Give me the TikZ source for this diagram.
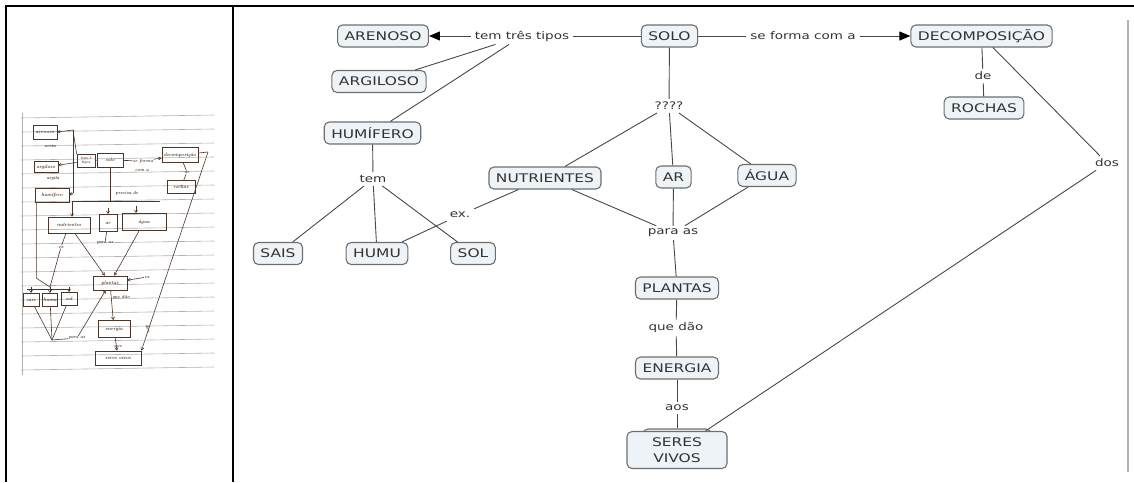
\documentclass[tikz,border=0pt]{standalone}
\usepackage{fontspec}
\usetikzlibrary{arrows.meta}
\newfontfamily\mapfont[FakeStretch=1.3]{DejaVu Sans}

\definecolor{boxfill}{HTML}{EDF3F6}
\definecolor{boxline}{HTML}{6E6E6E}
\definecolor{ink}{HTML}{333333}
\definecolor{wire}{HTML}{484848}
\definecolor{pen}{HTML}{4E3528}
\definecolor{ruled}{HTML}{B0B0B0}

\tikzset{
  concept/.style={draw=boxline, line width=1.1pt, fill=boxfill, rounded corners=5pt,
    text=ink, font={\mapfont\fontsize{11.9}{14}\selectfont},
    minimum height=22pt, inner xsep=7pt, inner ysep=2pt},
  linkword/.style={text=ink, font={\mapfont\fontsize{10.4}{12}\selectfont},
    inner xsep=4pt, inner ysep=3pt},
  wireline/.style={draw=wire, line width=0.9pt},
  wirearrow/.style={wireline, -{Triangle[length=11pt,width=9pt,color=black]}},
  frameline/.style={line width=2pt, black},
  hbox/.style={draw=pen, line width=0.7pt, inner sep=0.6pt, text=pen,
    font={\bfseries\itshape\fontsize{4.8}{5}\selectfont}},
  hnote/.style={inner sep=0.5pt, text=pen, font={\bfseries\itshape\fontsize{4.5}{5}\selectfont}},
  hline/.style={draw=pen, line width=0.6pt},
  harrow/.style={hline, -{Straight Barb[length=2.5pt,width=3pt]}},
}

\begin{document}
\begin{tikzpicture}[x=1pt,y=-1pt]
\useasboundingbox (0,0) rectangle (1134,482);

% table frame
\draw[frameline] (5,6) -- (1134,6);
\draw[frameline] (6,5) -- (6,482);
\draw[frameline] (233,6) -- (233,482);
\draw[draw=ruled, line width=1.2pt] (1128,20) -- (1128,472);

% ---------- handwritten draft on ruled paper ----------
\foreach \k in {0,...,18}
  \draw[ruled, line width=0.6pt] (21,{118+14*\k}) -- (214,{115+14*\k});
\draw[ruled, line width=0.4pt] (22,113) -- (22,375);

\node[hbox, minimum width=24pt, minimum height=14pt] (hare) at (45,132) {arenoso};
\node[hnote] (hareia) at (50,146) {areia};
\node[hbox, minimum width=24pt, minimum height=11pt] (harg) at (46,167) {argiloso};
\node[hnote] (hargila) at (53,178) {argila};
\node[hbox, minimum width=18pt, minimum height=13pt, align=center,
      font={\bfseries\itshape\fontsize{3.8}{4}\selectfont}] (htem) at (86,161) {tem 3\\tipos};
\node[hbox, minimum width=26pt, minimum height=14pt] (hsolo) at (110,160) {solo};
\node[hnote] (hforma) at (143,161) {se forma};
\node[hnote] (hcom) at (142,170) {com a};
\node[hbox, minimum width=36pt, minimum height=15pt] (hdec) at (180,155) {decomposição};
\node[hnote] (hde) at (187,172) {de};
\node[hbox, minimum width=28pt, minimum height=13pt] (hroc) at (181,187) {rochas};
\node[hbox, minimum width=34pt, minimum height=14pt] (hhum) at (52,195) {humífero};
\node[hnote] (hprec) at (127,193) {precisa de};
\node[hbox, minimum width=42pt, minimum height=16pt] (hnut) at (69,225) {nutrientes};
\node[hbox, minimum width=18pt, minimum height=17pt] (har) at (108,223) {ar};
\node[hbox, minimum width=44pt, minimum height=17pt] (hagua) at (144,222) {água};
\node[hnote] (hex) at (61,247) {ex};
\node[hnote] (hpara) at (105,243) {para as};
\node[hbox, minimum width=34pt, minimum height=14pt] (hpla) at (110,283) {plantas};
\node[hnote] (hex2) at (147,277) {ex};
\node[hnote] (hque) at (121,297) {que dão};
\node[hbox, minimum width=16pt, minimum height=13pt] (hsais) at (31,300) {sais};
\node[hbox, minimum width=15pt, minimum height=13pt] (hhumu) at (50,300) {humu};
\node[hbox, minimum width=16pt, minimum height=13pt] (hsol) at (69,299) {sol};
\node[hbox, minimum width=32pt, minimum height=17pt] (hene) at (114,329) {energia};
\node[hnote] (hpp) at (77,338) {para as};
\node[hnote] (haos) at (118,346) {aos};
\node[hbox, minimum width=46pt, minimum height=14pt] (hser) at (118,358) {seres vivos};
\node[hnote, rotate=-70] (hdos) at (148,328) {dos};

\coordinate (hv1) at (73,130);
\coordinate (hv2) at (73,193);
\coordinate (hbarL) at (72,201);
\coordinate (hbarR) at (160,201);
\coordinate (hj) at (50,287);
\coordinate (hk) at (52,340);
\coordinate (hdr) at (208,152);

\draw[hline] (hsolo) -- (htem);
\draw[harrow] (htem) -- (harg);
\draw[hline] (htem.north west) -- (hv1);
\draw[hline] (hv1) -- (hv2);
\draw[harrow] (hv1) -- (hare.east);
\draw[harrow] (hv2) -- (hhum.east);
\draw[hline] (hsolo) -- (hforma);
\draw[harrow] (hforma) -- (hdec);
\draw[hline] (hdec) -- (hde) -- (hroc);
\draw[hline] (hbarL) -- (hbarR);
\draw[hline] (hsolo) -- (hsolo |- hbarL);
\draw[harrow] (hnut.north -| hbarL) ++(0,-16) -- (hnut.north -| hbarL);
\draw[harrow] (har.north) ++(0,-6) -- (har.north);
\draw[harrow] (hagua.north) ++(-8,-7) -- ([xshift=-8pt]hagua.north);
\draw[hline] (hhum.south west) ++(2,0) -- ++(0,76) -- (hj);
\draw[hline] (hnut) -- (hex) -- (hj);
\draw[hline] (27,289) -- (70,289);
\draw[harrow] (hsais.north |- hj) -- (hsais.north);
\draw[harrow] (hj) -- (hhumu.north);
\draw[harrow] (hsol.north |- hj) -- (hsol.north);
\draw[hline] (hsais) -- (hk);
\draw[hline] (hhumu) -- (hk);
\draw[hline] (hsol) -- (hk);
\draw[hline] (hk) -- (hpp);
\draw[harrow] (hpp) -- (hpla);
\draw[harrow] (hnut) -- (hpla);
\draw[harrow] (hagua) -- (hpla);
\draw[hline] (har) -- (hpara);
\draw[harrow] (hpla) -- (hene);
\draw[harrow] (hene) -- (hser);
\draw[hline] (hdec) -- (hdr);
\draw[harrow] (hdr) -- (hser.north east);
\draw[harrow] (hex2) -- (hpla);

% ---------- concept map ----------
\node[concept] (arenoso) at (383,36) {ARENOSO};
\node[concept] (argiloso) at (379,81.5) {ARGILOSO};
\node[concept] (humifero) at (372.5,133) {HUMÍFERO};
\node[linkword] (tres) at (522,36) {tem três tipos};
\node[concept] (solo) at (669.5,36) {SOLO};
\node[linkword] (forma) at (803,36) {se forma com a};
\node[concept] (decomp) at (981.5,36) {DECOMPOSIÇÃO};
\node[linkword] (de) at (983,76) {de};
\node[concept] (rochas) at (984,108) {ROCHAS};
\node[linkword] (dos) at (1107,163) {dos};
\node[linkword] (tem) at (373,179) {tem};
\node[concept] (sais) at (278,253.5) {SAIS};
\node[concept] (humu) at (377,253.5) {HUMU};
\node[concept] (sol) at (473,253.5) {SOL};
\node[linkword] (ex) at (460,215) {ex.};
\node[linkword] (quest) at (669,106) {????};
\node[concept] (nutri) at (545,178) {NUTRIENTES};
\node[concept] (ar) at (673.5,177) {AR};
\node[concept] (agua) at (767,175.5) {ÁGUA};
\node[linkword] (paraas) at (673,233) {para as};
\node[concept] (plantas) at (677,288) {PLANTAS};
\node[linkword] (quedao) at (676,328) {que dão};
\node[concept] (energia) at (677,368) {ENERGIA};
\node[linkword] (aos) at (677,408) {aos};
\node[draw=boxline, line width=1.1pt, fill=boxfill, rounded corners=5pt,
      minimum width=68pt, minimum height=14pt] (stack) at (677,436) {};
\node[concept, minimum width=100pt, minimum height=37pt, align=center,
      font={\mapfont\fontsize{11.9}{16}\selectfont}] (seres) at (677,450) {SERES\\VIVOS};

\draw[wirearrow] (tres) -- (arenoso);
\draw[wireline] (tres) -- (argiloso);
\draw[wireline] (tres) -- (humifero);
\draw[wireline] (solo) -- (tres);
\draw[wireline] (solo) -- (forma);
\draw[wirearrow] (forma) -- (decomp);
\draw[wireline] (decomp) -- (de) -- (rochas);
\draw[wireline] (decomp) -- (dos);
\draw[wireline] (dos) -- (seres);
\draw[wireline] (humifero) -- (tem);
\draw[wireline] (tem) -- (sais);
\draw[wireline] (tem) -- (humu);
\draw[wireline] (tem) -- (sol);
\draw[wireline] (nutri) -- (ex);
\draw[wireline] (ex) -- (humu);
\draw[wireline] (solo) -- (quest);
\draw[wireline] (quest) -- (nutri);
\draw[wireline] (quest) -- (ar);
\draw[wireline] (quest) -- (agua);
\draw[wireline] (nutri) -- (paraas);
\draw[wireline] (ar) -- (paraas);
\draw[wireline] (agua) -- (paraas);
\draw[wireline] (paraas) -- (plantas);
\draw[wireline] (plantas) -- (quedao) -- (energia);
\draw[wireline] (energia) -- (aos) -- (stack);
\end{tikzpicture}
\end{document}
